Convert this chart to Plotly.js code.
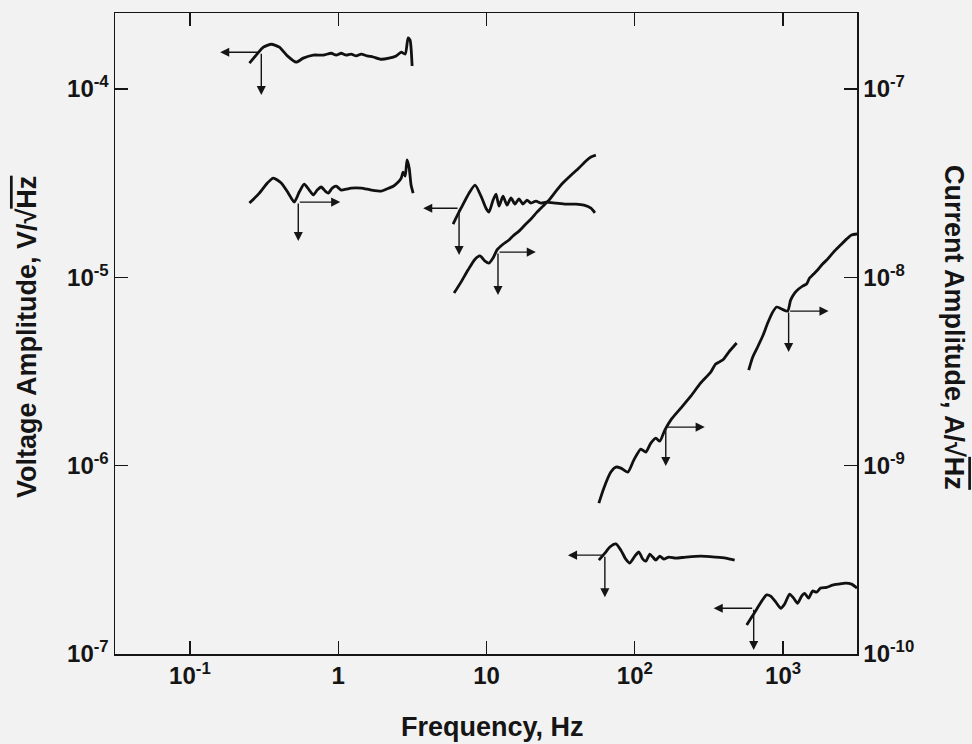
<!DOCTYPE html>
<html>
<head>
<meta charset="utf-8">
<script src="https://cdn.plot.ly/plotly-3.0.1.min.js"></script>
<style>
html,body{margin:0;padding:0;background:#f2f2f2;}
#chart{width:972px;height:744px;}
</style>
</head>
<body>
<div id="chart"></div>
<script>
// ---- Data (frequency in Hz; voltage in V/sqrt(Hz); current in A/sqrt(Hz)) ----
// Voltage curves (left axis)
const A_f = [0.252,0.280,0.313,0.354,0.401,0.454,0.521,0.581,0.679,0.793,0.897,0.969,1.047,1.132,1.223,1.322,1.429,1.568,1.721,1.948,2.20,2.458,2.66,2.83,2.96,3.05,3.15];
const A_v = [1.374e-4,1.515e-4,1.67e-4,1.73e-4,1.67e-4,1.50e-4,1.39e-4,1.46e-4,1.515e-4,1.515e-4,1.55e-4,1.515e-4,1.55e-4,1.515e-4,1.535e-4,1.50e-4,1.535e-4,1.50e-4,1.48e-4,1.44e-4,1.46e-4,1.50e-4,1.57e-4,1.535e-4,1.87e-4,1.82e-4,1.325e-4];

const C_f = [5.95,6.73,7.62,8.37,9.18,9.92,10.39,11.06,11.59,12.14,12.92,13.74,14.62,15.55,16.55,17.61,18.74,19.94,21.54,23.29,25.2,29.4,34.3,40.1,45.4,50.6,53.8];
const C_v = [1.92e-5,2.33e-5,2.80e-5,3.09e-5,2.70e-5,2.33e-5,2.22e-5,2.57e-5,2.77e-5,2.39e-5,2.70e-5,2.42e-5,2.64e-5,2.45e-5,2.61e-5,2.45e-5,2.57e-5,2.48e-5,2.54e-5,2.48e-5,2.51e-5,2.48e-5,2.45e-5,2.45e-5,2.42e-5,2.33e-5,2.20e-5];

const F_f = [57.2,62.8,67.9,74.5,80.5,86.9,92.5,100.0,106.4,113.2,118.6,126.2,132.2,138.5,147.3,156.8,169.4,188.8,220.4,278.2,351,410,471];
const F_v = [3.15e-7,3.43e-7,3.70e-7,3.84e-7,3.56e-7,3.19e-7,3.04e-7,3.31e-7,3.48e-7,3.19e-7,3.11e-7,3.39e-7,3.27e-7,3.15e-7,3.31e-7,3.19e-7,3.27e-7,3.23e-7,3.27e-7,3.31e-7,3.27e-7,3.23e-7,3.15e-7];

const H_f = [568,614,663,717,774,824,890,962,1023,1106,1177,1252,1333,1396,1485,1580,1681,1789,1963,2154,2364,2635,2893,3150];
const H_v = [1.424e-7,1.57e-7,1.73e-7,1.91e-7,2.06e-7,2.03e-7,1.89e-7,1.75e-7,1.84e-7,2.08e-7,1.98e-7,1.86e-7,2.03e-7,2.10e-7,1.98e-7,2.16e-7,2.13e-7,2.24e-7,2.26e-7,2.32e-7,2.35e-7,2.38e-7,2.35e-7,2.24e-7];

// Current curves (right axis)
const B_f = [0.252,0.294,0.333,0.365,0.413,0.461,0.505,0.546,0.590,0.638,0.679,0.722,0.768,0.818,0.857,0.911,0.969,1.047,1.132,1.223,1.429,1.668,1.948,2.105,2.35,2.54,2.66,2.74,2.83,2.91,3.01,3.10,3.20];
const B_i = [2.48e-8,2.80e-8,3.17e-8,3.37e-8,3.17e-8,2.80e-8,2.51e-8,2.84e-8,3.13e-8,2.91e-8,2.74e-8,2.91e-8,3.02e-8,2.87e-8,2.80e-8,2.98e-8,3.05e-8,2.91e-8,2.94e-8,2.98e-8,2.98e-8,2.91e-8,2.87e-8,2.94e-8,3.05e-8,3.21e-8,3.37e-8,3.62e-8,3.45e-8,4.20e-8,3.81e-8,3.09e-8,2.80e-8];

const D_f = [6.04,6.73,7.50,8.37,9.04,9.77,10.39,11.06,11.77,12.92,14.17,15.08,16.55,18.16,19.94,21.88,24.01,26.35,29.4,32.7,37.1,42.0,46.8,50.6,54.6];
const D_i = [8.25e-9,9.44e-9,1.094e-8,1.25e-8,1.30e-8,1.22e-8,1.19e-8,1.266e-8,1.40e-8,1.50e-8,1.58e-8,1.66e-8,1.76e-8,1.90e-8,2.04e-8,2.22e-8,2.39e-8,2.57e-8,2.87e-8,3.17e-8,3.49e-8,3.81e-8,4.15e-8,4.36e-8,4.46e-8];

const E_f = [57.2,61.8,68.9,74.5,80.5,89.7,98.4,109.7,118.6,128.2,138.5,147.3,159.3,174.7,204.1,238.4,278.2,325,351,391,430,486];
const E_i = [6.33e-10,7.60e-10,9.25e-10,9.83e-10,9.71e-10,9.25e-10,1.071e-9,1.225e-9,1.181e-9,1.318e-9,1.401e-9,1.35e-9,1.546e-9,1.747e-9,2.02e-9,2.34e-9,2.75e-9,3.14e-9,3.47e-9,3.64e-9,4.01e-9,4.48e-9];

const G_f = [586,623,673,728,787,850,904,977,1072,1123,1195,1271,1352,1439,1507,1604,1707,1845,1994,2188,2439,2677,2893,3150];
const G_i = [3.22e-9,3.77e-9,4.27e-9,4.88e-9,5.72e-9,6.54e-9,6.96e-9,6.79e-9,6.62e-9,7.57e-9,8.25e-9,8.67e-9,8.99e-9,9.21e-9,9.92e-9,1.041e-8,1.094e-8,1.177e-8,1.25e-8,1.362e-8,1.484e-8,1.597e-8,1.68e-8,1.70e-8];

// Axis-indicator arrows: origin on curve, horizontal arrow end (freq), downward arrow end (amplitude)
const arrowAxis   = ['y','y2','y','y2','y2','y','y2','y'];
const arrowOrigF  = [0.303,0.538,6.53,11.95,161.7,62.8,1089,633];
const arrowOrigA  = [1.57e-4,2.51e-8,2.33e-5,1.362e-8,1.603e-9,3.35e-7,6.62e-9,1.75e-7];
const arrowHorizF = [0.160,1.032,3.74,21.5,296,35.4,2024,340];
const arrowDownA  = [9.3e-5,1.56e-8,1.313e-5,8.05e-9,9.95e-10,2.00e-7,4.01e-9,1.05e-7];

// Tick labels
const xTickVals = [0.1,1,10,100,1000];
const xTickText = ['10<sup>-1</sup>','1','10','10<sup>2</sup>','10<sup>3</sup>'];
const yTickVals = [1e-7,1e-6,1e-5,1e-4];
const yTickText = ['10<sup>-7</sup>','10<sup>-6</sup>','10<sup>-5</sup>','10<sup>-4</sup>'];
const y2TickVals = [1e-10,1e-9,1e-8,1e-7];
const y2TickText = ['10<sup>-10</sup>','10<sup>-9</sup>','10<sup>-8</sup>','10<sup>-7</sup>'];

// ---- Plot ----
const lineStyle = {color:'#111', width:2.8, shape:'spline', smoothing:0.6};
function tr(x, y, axis){ return {x:x, y:y, type:'scatter', mode:'lines', line:lineStyle, yaxis:axis, hoverinfo:'skip', showlegend:false}; }
const traces = [
  tr(A_f,A_v,'y'), tr(C_f,C_v,'y'), tr(F_f,F_v,'y'), tr(H_f,H_v,'y'),
  tr(B_f,B_i,'y2'), tr(D_f,D_i,'y2'), tr(E_f,E_i,'y2'), tr(G_f,G_i,'y2')
];

const font = {family:'Liberation Sans, Arial, Helvetica, sans-serif', color:'#151515'};
const annotations = [];
for (let k=0;k<arrowAxis.length;k++){
  const yr = arrowAxis[k];
  const common = {xref:'x', yref:yr, axref:'x', ayref:yr, text:'', showarrow:true,
    arrowhead:2, arrowsize:1.3, arrowwidth:1.4, arrowcolor:'#151515', standoff:0, startstandoff:0};
  annotations.push(Object.assign({}, common, {
    x:Math.log10(arrowHorizF[k]), y:Math.log10(arrowOrigA[k]),
    ax:Math.log10(arrowOrigF[k]), ay:Math.log10(arrowOrigA[k])}));
  annotations.push(Object.assign({}, common, {
    x:Math.log10(arrowOrigF[k]), y:Math.log10(arrowDownA[k]),
    ax:Math.log10(arrowOrigF[k]), ay:Math.log10(arrowOrigA[k])}));
}
const titleFont = Object.assign({}, font, {size:27, weight:'bold'});
annotations.push({xref:'paper', yref:'paper', x:-0.1186, y:0.4945, xanchor:'center', yanchor:'middle',
  textangle:-90, showarrow:false, font:titleFont,
  text:"Voltage Amplitude, V/√<span style='text-decoration:overline'>Hz</span>"});
annotations.push({xref:'paper', yref:'paper', x:1.1307, y:0.5086, xanchor:'center', yanchor:'middle',
  textangle:90, showarrow:false, font:titleFont,
  text:"Current Amplitude, A/√<span style='text-decoration:overline'>Hz</span>"});
annotations.push({xref:'paper', yref:'paper', x:0.509, y:-0.1139, xanchor:'center', yanchor:'middle',
  showarrow:false, font:titleFont, text:'Frequency, Hz'});

const tickFont = Object.assign({}, font, {size:24, weight:'bold'});
const axisCommon = {type:'log', showgrid:false, zeroline:false, showline:true, linecolor:'#151515', linewidth:1.5,
  ticks:'inside', ticklen:13, tickwidth:1.3, tickcolor:'#151515', tickfont:tickFont, tickmode:'array'};

const layout = {
  width:972, height:744,
  margin:{l:115, r:115, t:13, b:90, pad:0},
  paper_bgcolor:'#f2f2f2', plot_bgcolor:'#f2f2f2',
  font:font,
  showlegend:false,
  xaxis:Object.assign({}, axisCommon, {range:[-1.505,3.498], tickvals:xTickVals, ticktext:xTickText, mirror:'ticks'}),
  yaxis:Object.assign({}, axisCommon, {range:[-7,-3.596], tickvals:yTickVals, ticktext:yTickText}),
  yaxis2:Object.assign({}, axisCommon, {range:[-10,-6.596], tickvals:y2TickVals, ticktext:y2TickText, overlaying:'y', side:'right'}),
  annotations:annotations
};

Plotly.newPlot('chart', traces, layout, {staticPlot:true, displayModeBar:false});
</script>
</body>
</html>
